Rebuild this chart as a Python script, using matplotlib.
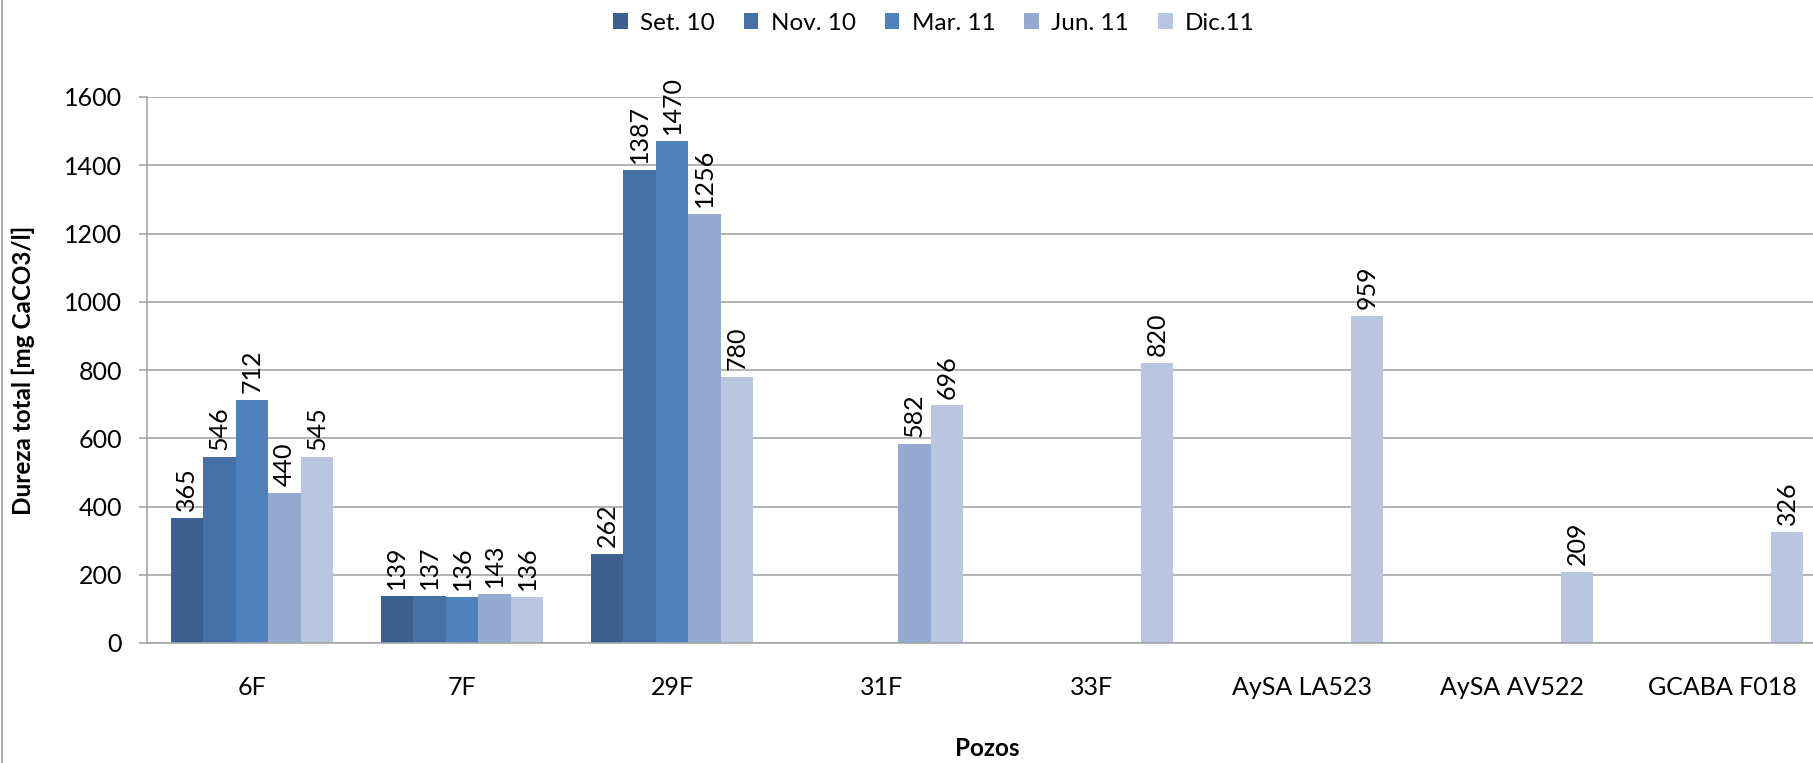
import numpy as np
import matplotlib.pyplot as plt
from matplotlib.lines import Line2D

plt.rcParams['font.family'] = ['Lato', 'DejaVu Sans']

# data (nan = no sample)
pozos = ['6F', '7F', '29F', '31F', '33F', 'AySA LA523', 'AySA AV522', 'GCABA F018']
series = ['Set. 10', 'Nov. 10', 'Mar. 11', 'Jun. 11', 'Dic.11']
set10 = [365, 139, 262, np.nan, np.nan, np.nan, np.nan, np.nan]
nov10 = [546, 137, 1387, np.nan, np.nan, np.nan, np.nan, np.nan]
mar11 = [712, 136, 1470, np.nan, np.nan, np.nan, np.nan, np.nan]
jun11 = [440, 143, 1256, 582, np.nan, np.nan, np.nan, np.nan]
dic11 = [545, 136, 780, 696, 820, 959, 209, 326]
colores = ['#3b5f8e', '#4571a6', '#4f81bd', '#95a9d1', '#bac6e0']

W, H = 1813, 763
fig = plt.figure(figsize=(W / 100, H / 100), dpi=100)
ax = fig.add_axes([147 / W, 1 - 643 / H, 1680 / W, 546 / H])

x = np.arange(len(pozos))
bw = 0.155
for k, (nombre, vals, c) in enumerate(zip(series, [set10, nov10, mar11, jun11, dic11], colores)):
    pos = x + (k - 2) * bw
    ax.bar(pos, vals, width=bw, color=c, label=nombre, zorder=2)
    for xi, v in zip(pos, vals):
        if np.isnan(v):
            continue
        ax.annotate(f'{v:.0f}', (xi, v), xytext=(0, 5), textcoords='offset points',
                    rotation=90, ha='center', va='bottom', fontsize=18)

ax.set_xlim(-0.5, len(pozos) - 0.5)
ax.set_ylim(0, 1600)
ax.set_yticks(np.arange(0, 1601, 200))
ax.set_xticks(x)
ax.set_xticklabels(pozos)
ax.grid(axis='y', color='#a6a6a6', linewidth=1.2, zorder=0)
ax.tick_params(axis='x', length=0, pad=24, labelsize=18)
ax.tick_params(axis='y', length=6, color='#a6a6a6', width=1.2, pad=12, labelsize=18)
for s in ['top', 'right']:
    ax.spines[s].set_visible(False)
for s in ['left', 'bottom']:
    ax.spines[s].set_color('#a6a6a6')
    ax.spines[s].set_linewidth(1.2)

fig.text(23 / W, 1 - 370 / H, 'Dureza total [mg CaCO3/l]', rotation=90,
         ha='center', va='center', fontsize=17.5, fontweight='bold')
fig.text(987 / W, 1 - 749 / H, 'Pozos', ha='center', va='center',
         fontsize=17.5, fontweight='bold')

fig.legend(loc='center', bbox_to_anchor=(934 / W, 1 - 23 / H), ncol=5, frameon=False,
           fontsize=17.5, handlelength=0.6, handleheight=0.6, handletextpad=0.5,
           columnspacing=1.2)

# chart border on the left edge
fig.add_artist(Line2D([2 / W, 2 / W], [0, 1], color='#a0a0a0', linewidth=1.2,
                      transform=fig.transFigure))

plt.savefig('out.png', dpi=100)
